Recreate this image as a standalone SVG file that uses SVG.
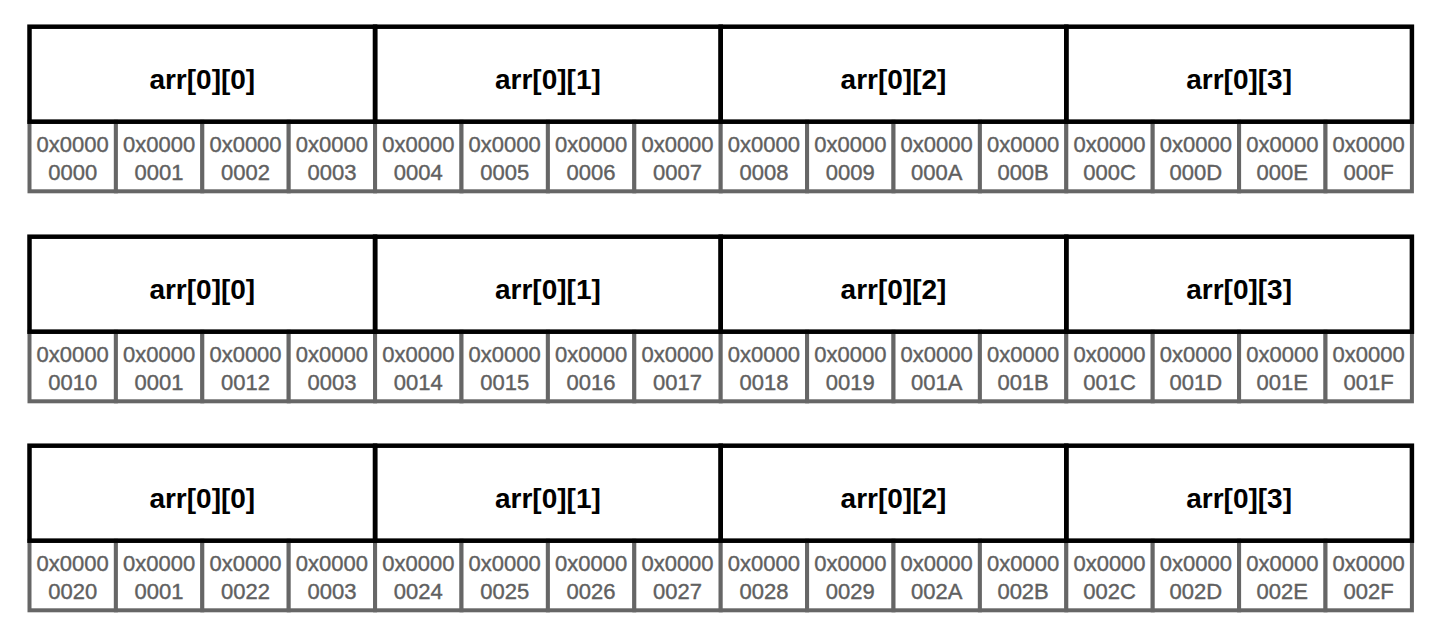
<svg xmlns="http://www.w3.org/2000/svg" width="1441" height="640" viewBox="0 0 1441 640">
<style>
.bg{fill:#ffffff}
.cell{fill:#ffffff;stroke:#666666;stroke-width:4}
.hdr{fill:none;stroke:#000000;stroke-width:4.5}
.ht{font-family:"Liberation Sans",Arial,sans-serif;font-size:28px;font-weight:bold;fill:#000000;text-anchor:middle}
.ct{font-family:"Liberation Sans",Arial,sans-serif;font-size:22px;fill:#606060;stroke:#606060;stroke-width:0.4;text-anchor:middle}
</style>
<rect class="bg" x="0" y="0" width="1441" height="640"/>
<g id="connectors"/>

<!-- Row 1 -->
<g id="row1">
<g id="r1c0"><rect class="cell" x="29.5" y="121.7" width="86.4" height="69.6"/><text class="ct" y="152.3"><tspan x="72.7">0x0000</tspan><tspan x="72.7" y="180">0000</tspan></text></g>
<g id="r1c1"><rect class="cell" x="115.9" y="121.7" width="86.4" height="69.6"/><text class="ct" y="152.3"><tspan x="159.1">0x0000</tspan><tspan x="159.1" y="180">0001</tspan></text></g>
<g id="r1c2"><rect class="cell" x="202.3" y="121.7" width="86.4" height="69.6"/><text class="ct" y="152.3"><tspan x="245.5">0x0000</tspan><tspan x="245.5" y="180">0002</tspan></text></g>
<g id="r1c3"><rect class="cell" x="288.7" y="121.7" width="86.4" height="69.6"/><text class="ct" y="152.3"><tspan x="331.9">0x0000</tspan><tspan x="331.9" y="180">0003</tspan></text></g>
<g id="r1c4"><rect class="cell" x="375.1" y="121.7" width="86.4" height="69.6"/><text class="ct" y="152.3"><tspan x="418.3">0x0000</tspan><tspan x="418.3" y="180">0004</tspan></text></g>
<g id="r1c5"><rect class="cell" x="461.5" y="121.7" width="86.4" height="69.6"/><text class="ct" y="152.3"><tspan x="504.7">0x0000</tspan><tspan x="504.7" y="180">0005</tspan></text></g>
<g id="r1c6"><rect class="cell" x="547.9" y="121.7" width="86.4" height="69.6"/><text class="ct" y="152.3"><tspan x="591.1">0x0000</tspan><tspan x="591.1" y="180">0006</tspan></text></g>
<g id="r1c7"><rect class="cell" x="634.3" y="121.7" width="86.4" height="69.6"/><text class="ct" y="152.3"><tspan x="677.5">0x0000</tspan><tspan x="677.5" y="180">0007</tspan></text></g>
<g id="r1c8"><rect class="cell" x="720.7" y="121.7" width="86.4" height="69.6"/><text class="ct" y="152.3"><tspan x="763.9">0x0000</tspan><tspan x="763.9" y="180">0008</tspan></text></g>
<g id="r1c9"><rect class="cell" x="807.1" y="121.7" width="86.4" height="69.6"/><text class="ct" y="152.3"><tspan x="850.3">0x0000</tspan><tspan x="850.3" y="180">0009</tspan></text></g>
<g id="r1c10"><rect class="cell" x="893.5" y="121.7" width="86.4" height="69.6"/><text class="ct" y="152.3"><tspan x="936.7">0x0000</tspan><tspan x="936.7" y="180">000A</tspan></text></g>
<g id="r1c11"><rect class="cell" x="979.9" y="121.7" width="86.4" height="69.6"/><text class="ct" y="152.3"><tspan x="1023.1">0x0000</tspan><tspan x="1023.1" y="180">000B</tspan></text></g>
<g id="r1c12"><rect class="cell" x="1066.3" y="121.7" width="86.4" height="69.6"/><text class="ct" y="152.3"><tspan x="1109.5">0x0000</tspan><tspan x="1109.5" y="180">000C</tspan></text></g>
<g id="r1c13"><rect class="cell" x="1152.7" y="121.7" width="86.4" height="69.6"/><text class="ct" y="152.3"><tspan x="1195.9">0x0000</tspan><tspan x="1195.9" y="180">000D</tspan></text></g>
<g id="r1c14"><rect class="cell" x="1239.1" y="121.7" width="86.4" height="69.6"/><text class="ct" y="152.3"><tspan x="1282.3">0x0000</tspan><tspan x="1282.3" y="180">000E</tspan></text></g>
<g id="r1c15"><rect class="cell" x="1325.5" y="121.7" width="86.4" height="69.6"/><text class="ct" y="152.3"><tspan x="1368.7">0x0000</tspan><tspan x="1368.7" y="180">000F</tspan></text></g>
<g id="r1h0"><rect class="hdr" x="29.5" y="26.7" width="345.6" height="95"/><text class="ht" x="202.3" y="89.3">arr[0][0]</text></g>
<g id="r1h1"><rect class="hdr" x="375.1" y="26.7" width="345.6" height="95"/><text class="ht" x="547.9" y="89.3">arr[0][1]</text></g>
<g id="r1h2"><rect class="hdr" x="720.7" y="26.7" width="345.6" height="95"/><text class="ht" x="893.5" y="89.3">arr[0][2]</text></g>
<g id="r1h3"><rect class="hdr" x="1066.3" y="26.7" width="345.6" height="95"/><text class="ht" x="1239.1" y="89.3">arr[0][3]</text></g>
</g>

<!-- Row 2 -->
<g id="row2" transform="translate(0,210)">
<g id="r2c0"><rect class="cell" x="29.5" y="121.7" width="86.4" height="69.6"/><text class="ct" y="152.3"><tspan x="72.7">0x0000</tspan><tspan x="72.7" y="180">0010</tspan></text></g>
<g id="r2c1"><rect class="cell" x="115.9" y="121.7" width="86.4" height="69.6"/><text class="ct" y="152.3"><tspan x="159.1">0x0000</tspan><tspan x="159.1" y="180">0001</tspan></text></g>
<g id="r2c2"><rect class="cell" x="202.3" y="121.7" width="86.4" height="69.6"/><text class="ct" y="152.3"><tspan x="245.5">0x0000</tspan><tspan x="245.5" y="180">0012</tspan></text></g>
<g id="r2c3"><rect class="cell" x="288.7" y="121.7" width="86.4" height="69.6"/><text class="ct" y="152.3"><tspan x="331.9">0x0000</tspan><tspan x="331.9" y="180">0003</tspan></text></g>
<g id="r2c4"><rect class="cell" x="375.1" y="121.7" width="86.4" height="69.6"/><text class="ct" y="152.3"><tspan x="418.3">0x0000</tspan><tspan x="418.3" y="180">0014</tspan></text></g>
<g id="r2c5"><rect class="cell" x="461.5" y="121.7" width="86.4" height="69.6"/><text class="ct" y="152.3"><tspan x="504.7">0x0000</tspan><tspan x="504.7" y="180">0015</tspan></text></g>
<g id="r2c6"><rect class="cell" x="547.9" y="121.7" width="86.4" height="69.6"/><text class="ct" y="152.3"><tspan x="591.1">0x0000</tspan><tspan x="591.1" y="180">0016</tspan></text></g>
<g id="r2c7"><rect class="cell" x="634.3" y="121.7" width="86.4" height="69.6"/><text class="ct" y="152.3"><tspan x="677.5">0x0000</tspan><tspan x="677.5" y="180">0017</tspan></text></g>
<g id="r2c8"><rect class="cell" x="720.7" y="121.7" width="86.4" height="69.6"/><text class="ct" y="152.3"><tspan x="763.9">0x0000</tspan><tspan x="763.9" y="180">0018</tspan></text></g>
<g id="r2c9"><rect class="cell" x="807.1" y="121.7" width="86.4" height="69.6"/><text class="ct" y="152.3"><tspan x="850.3">0x0000</tspan><tspan x="850.3" y="180">0019</tspan></text></g>
<g id="r2c10"><rect class="cell" x="893.5" y="121.7" width="86.4" height="69.6"/><text class="ct" y="152.3"><tspan x="936.7">0x0000</tspan><tspan x="936.7" y="180">001A</tspan></text></g>
<g id="r2c11"><rect class="cell" x="979.9" y="121.7" width="86.4" height="69.6"/><text class="ct" y="152.3"><tspan x="1023.1">0x0000</tspan><tspan x="1023.1" y="180">001B</tspan></text></g>
<g id="r2c12"><rect class="cell" x="1066.3" y="121.7" width="86.4" height="69.6"/><text class="ct" y="152.3"><tspan x="1109.5">0x0000</tspan><tspan x="1109.5" y="180">001C</tspan></text></g>
<g id="r2c13"><rect class="cell" x="1152.7" y="121.7" width="86.4" height="69.6"/><text class="ct" y="152.3"><tspan x="1195.9">0x0000</tspan><tspan x="1195.9" y="180">001D</tspan></text></g>
<g id="r2c14"><rect class="cell" x="1239.1" y="121.7" width="86.4" height="69.6"/><text class="ct" y="152.3"><tspan x="1282.3">0x0000</tspan><tspan x="1282.3" y="180">001E</tspan></text></g>
<g id="r2c15"><rect class="cell" x="1325.5" y="121.7" width="86.4" height="69.6"/><text class="ct" y="152.3"><tspan x="1368.7">0x0000</tspan><tspan x="1368.7" y="180">001F</tspan></text></g>
<g id="r2h0"><rect class="hdr" x="29.5" y="26.7" width="345.6" height="95"/><text class="ht" x="202.3" y="89.3">arr[0][0]</text></g>
<g id="r2h1"><rect class="hdr" x="375.1" y="26.7" width="345.6" height="95"/><text class="ht" x="547.9" y="89.3">arr[0][1]</text></g>
<g id="r2h2"><rect class="hdr" x="720.7" y="26.7" width="345.6" height="95"/><text class="ht" x="893.5" y="89.3">arr[0][2]</text></g>
<g id="r2h3"><rect class="hdr" x="1066.3" y="26.7" width="345.6" height="95"/><text class="ht" x="1239.1" y="89.3">arr[0][3]</text></g>
</g>

<!-- Row 3 -->
<g id="row3" transform="translate(0,419)">
<g id="r3c0"><rect class="cell" x="29.5" y="121.7" width="86.4" height="69.6"/><text class="ct" y="152.3"><tspan x="72.7">0x0000</tspan><tspan x="72.7" y="180">0020</tspan></text></g>
<g id="r3c1"><rect class="cell" x="115.9" y="121.7" width="86.4" height="69.6"/><text class="ct" y="152.3"><tspan x="159.1">0x0000</tspan><tspan x="159.1" y="180">0001</tspan></text></g>
<g id="r3c2"><rect class="cell" x="202.3" y="121.7" width="86.4" height="69.6"/><text class="ct" y="152.3"><tspan x="245.5">0x0000</tspan><tspan x="245.5" y="180">0022</tspan></text></g>
<g id="r3c3"><rect class="cell" x="288.7" y="121.7" width="86.4" height="69.6"/><text class="ct" y="152.3"><tspan x="331.9">0x0000</tspan><tspan x="331.9" y="180">0003</tspan></text></g>
<g id="r3c4"><rect class="cell" x="375.1" y="121.7" width="86.4" height="69.6"/><text class="ct" y="152.3"><tspan x="418.3">0x0000</tspan><tspan x="418.3" y="180">0024</tspan></text></g>
<g id="r3c5"><rect class="cell" x="461.5" y="121.7" width="86.4" height="69.6"/><text class="ct" y="152.3"><tspan x="504.7">0x0000</tspan><tspan x="504.7" y="180">0025</tspan></text></g>
<g id="r3c6"><rect class="cell" x="547.9" y="121.7" width="86.4" height="69.6"/><text class="ct" y="152.3"><tspan x="591.1">0x0000</tspan><tspan x="591.1" y="180">0026</tspan></text></g>
<g id="r3c7"><rect class="cell" x="634.3" y="121.7" width="86.4" height="69.6"/><text class="ct" y="152.3"><tspan x="677.5">0x0000</tspan><tspan x="677.5" y="180">0027</tspan></text></g>
<g id="r3c8"><rect class="cell" x="720.7" y="121.7" width="86.4" height="69.6"/><text class="ct" y="152.3"><tspan x="763.9">0x0000</tspan><tspan x="763.9" y="180">0028</tspan></text></g>
<g id="r3c9"><rect class="cell" x="807.1" y="121.7" width="86.4" height="69.6"/><text class="ct" y="152.3"><tspan x="850.3">0x0000</tspan><tspan x="850.3" y="180">0029</tspan></text></g>
<g id="r3c10"><rect class="cell" x="893.5" y="121.7" width="86.4" height="69.6"/><text class="ct" y="152.3"><tspan x="936.7">0x0000</tspan><tspan x="936.7" y="180">002A</tspan></text></g>
<g id="r3c11"><rect class="cell" x="979.9" y="121.7" width="86.4" height="69.6"/><text class="ct" y="152.3"><tspan x="1023.1">0x0000</tspan><tspan x="1023.1" y="180">002B</tspan></text></g>
<g id="r3c12"><rect class="cell" x="1066.3" y="121.7" width="86.4" height="69.6"/><text class="ct" y="152.3"><tspan x="1109.5">0x0000</tspan><tspan x="1109.5" y="180">002C</tspan></text></g>
<g id="r3c13"><rect class="cell" x="1152.7" y="121.7" width="86.4" height="69.6"/><text class="ct" y="152.3"><tspan x="1195.9">0x0000</tspan><tspan x="1195.9" y="180">002D</tspan></text></g>
<g id="r3c14"><rect class="cell" x="1239.1" y="121.7" width="86.4" height="69.6"/><text class="ct" y="152.3"><tspan x="1282.3">0x0000</tspan><tspan x="1282.3" y="180">002E</tspan></text></g>
<g id="r3c15"><rect class="cell" x="1325.5" y="121.7" width="86.4" height="69.6"/><text class="ct" y="152.3"><tspan x="1368.7">0x0000</tspan><tspan x="1368.7" y="180">002F</tspan></text></g>
<g id="r3h0"><rect class="hdr" x="29.5" y="26.7" width="345.6" height="95"/><text class="ht" x="202.3" y="89.3">arr[0][0]</text></g>
<g id="r3h1"><rect class="hdr" x="375.1" y="26.7" width="345.6" height="95"/><text class="ht" x="547.9" y="89.3">arr[0][1]</text></g>
<g id="r3h2"><rect class="hdr" x="720.7" y="26.7" width="345.6" height="95"/><text class="ht" x="893.5" y="89.3">arr[0][2]</text></g>
<g id="r3h3"><rect class="hdr" x="1066.3" y="26.7" width="345.6" height="95"/><text class="ht" x="1239.1" y="89.3">arr[0][3]</text></g>
</g>
</svg>
